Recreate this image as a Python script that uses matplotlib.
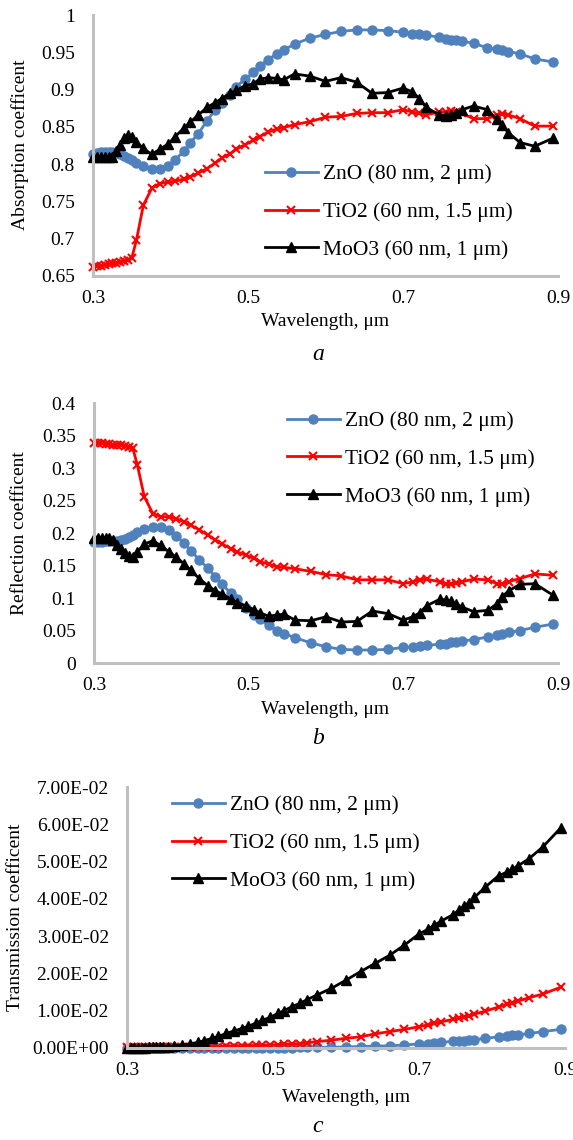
import matplotlib
matplotlib.use("Agg")
import matplotlib.pyplot as plt
from matplotlib.ticker import FuncFormatter

plt.rcParams['font.family'] = ['Liberation Serif', 'DejaVu Serif']

# wavelength grid (um), shared by all curves
wl = [0.300, 0.305, 0.310, 0.315, 0.320, 0.325, 0.330, 0.335, 0.340, 0.345, 0.350,
      0.356, 0.365, 0.376, 0.386, 0.397, 0.406, 0.417, 0.425, 0.436, 0.447,
      0.457, 0.466, 0.477, 0.485, 0.496, 0.507, 0.515, 0.526, 0.537, 0.546,
      0.56, 0.58, 0.60, 0.62, 0.64, 0.66, 0.68, 0.70,
      0.712, 0.721, 0.730, 0.747, 0.755, 0.762, 0.768, 0.776, 0.791, 0.809,
      0.821, 0.828, 0.836, 0.851, 0.870, 0.894]

labels = ['ZnO (80 nm, 2 \u03bcm)', 'TiO2 (60 nm, 1.5 \u03bcm)', 'MoO3 (60 nm, 1 \u03bcm)']

# (a) absorption
abs_zno = [0.814, 0.815, 0.816, 0.816, 0.816, 0.816, 0.815, 0.813, 0.811, 0.808, 0.805,
           0.802, 0.798, 0.794, 0.793, 0.797, 0.806, 0.817, 0.828, 0.841, 0.858,
           0.872, 0.882, 0.893, 0.904, 0.914, 0.923, 0.932, 0.940, 0.948, 0.953,
           0.961, 0.969, 0.974, 0.978, 0.980, 0.980, 0.979, 0.977,
           0.975, 0.975, 0.973, 0.970, 0.968, 0.967, 0.966, 0.965, 0.962, 0.956,
           0.954, 0.953, 0.951, 0.948, 0.941, 0.937]
abs_tio2 = [0.662, 0.663, 0.664, 0.665, 0.666, 0.667, 0.668, 0.669, 0.670, 0.671, 0.674,
            0.698, 0.745, 0.768, 0.774, 0.776, 0.777, 0.780, 0.783, 0.788, 0.794,
            0.801, 0.808, 0.814, 0.820, 0.826, 0.832, 0.837, 0.843, 0.847, 0.849,
            0.853, 0.857, 0.863, 0.864, 0.868, 0.869, 0.869, 0.873,
            0.870, 0.868, 0.866, 0.870, 0.870, 0.871, 0.870, 0.868, 0.861, 0.861,
            0.866, 0.867, 0.866, 0.861, 0.851, 0.851]
abs_moo3 = [0.809, 0.809, 0.809, 0.809, 0.809, 0.810, 0.817, 0.826, 0.835, 0.839, 0.837,
            0.830, 0.821, 0.813, 0.820, 0.827, 0.837, 0.848, 0.856, 0.866, 0.876,
            0.882, 0.888, 0.895, 0.899, 0.905, 0.908, 0.914, 0.916, 0.915, 0.913,
            0.921, 0.918, 0.911, 0.916, 0.910, 0.895, 0.896, 0.902,
            0.897, 0.888, 0.876, 0.866, 0.865, 0.866, 0.868, 0.873, 0.878, 0.873,
            0.860, 0.852, 0.842, 0.829, 0.824, 0.835]

# (b) reflection
ref_zno = [0.186, 0.186, 0.186, 0.187, 0.187, 0.187, 0.188, 0.189, 0.191, 0.194, 0.197,
           0.201, 0.206, 0.209, 0.209, 0.205, 0.196, 0.184, 0.173, 0.159, 0.146,
           0.133, 0.121, 0.107, 0.099, 0.085, 0.074, 0.067, 0.058, 0.050, 0.045,
           0.039, 0.031, 0.025, 0.021, 0.020, 0.020, 0.021, 0.024,
           0.025, 0.026, 0.027, 0.029, 0.030, 0.032, 0.033, 0.034, 0.036, 0.040,
           0.043, 0.045, 0.047, 0.050, 0.055, 0.060]
ref_tio2 = [0.339, 0.338, 0.338, 0.337, 0.337, 0.336, 0.336, 0.335, 0.334, 0.333, 0.331,
            0.305, 0.256, 0.230, 0.225, 0.225, 0.222, 0.217, 0.212, 0.205, 0.197,
            0.189, 0.183, 0.176, 0.171, 0.166, 0.161, 0.156, 0.152, 0.148, 0.147,
            0.145, 0.141, 0.136, 0.134, 0.128, 0.128, 0.128, 0.122,
            0.125, 0.128, 0.129, 0.125, 0.122, 0.121, 0.123, 0.125, 0.129, 0.128,
            0.122, 0.121, 0.125, 0.130, 0.137, 0.135]
ref_moo3 = [0.193, 0.193, 0.193, 0.193, 0.193, 0.190, 0.182, 0.176, 0.169, 0.164, 0.163,
            0.171, 0.183, 0.188, 0.181, 0.171, 0.163, 0.152, 0.143, 0.130, 0.119,
            0.111, 0.106, 0.098, 0.093, 0.088, 0.082, 0.077, 0.072, 0.074, 0.075,
            0.066, 0.065, 0.071, 0.063, 0.064, 0.080, 0.076, 0.066,
            0.071, 0.077, 0.088, 0.098, 0.097, 0.095, 0.091, 0.086, 0.079, 0.081,
            0.091, 0.102, 0.111, 0.121, 0.122, 0.104]

# (c) transmission
tr_zno = [0.0000, 0.0000, 0.0000, 0.0000, 0.0000, 0.0000, 0.0000, 0.0000, 0.0000, 0.0000, 0.0000,
          0.0000, 0.0000, 0.0000, 0.0000, 0.0000, 0.0001, 0.0001, 0.0001, 0.0001, 0.0001,
          0.0001, 0.0001, 0.0001, 0.0001, 0.0001, 0.0001, 0.0001, 0.0001, 0.0002, 0.0002,
          0.0002, 0.0002, 0.0003, 0.0004, 0.0005, 0.0006, 0.0008, 0.0011,
          0.0012, 0.0013, 0.0015, 0.0018, 0.0019, 0.0020, 0.0021, 0.0022, 0.0026, 0.0030,
          0.0032, 0.0034, 0.0035, 0.0039, 0.0044, 0.0050]
tr_tio2 = [0.0002, 0.0002, 0.0002, 0.0002, 0.0002, 0.0002, 0.0002, 0.0002, 0.0002, 0.0002, 0.0002,
           0.0002, 0.0002, 0.0003, 0.0003, 0.0003, 0.0004, 0.0004, 0.0004, 0.0005, 0.0005,
           0.0006, 0.0006, 0.0007, 0.0007, 0.0008, 0.0009, 0.0010, 0.0011, 0.0012, 0.0014,
           0.0017, 0.0021, 0.0026, 0.0030, 0.0038, 0.0044, 0.0050, 0.0057,
           0.0062, 0.0066, 0.0070, 0.0077, 0.0080, 0.0083, 0.0086, 0.0091, 0.0099, 0.0110,
           0.0118, 0.0122, 0.0126, 0.0135, 0.0145, 0.0163]
tr_moo3 = [0.0000, 0.0000, 0.0001, 0.0001, 0.0001, 0.0001, 0.0002, 0.0002, 0.0002, 0.0003, 0.0003,
           0.0004, 0.0006, 0.0008, 0.0011, 0.0015, 0.0020, 0.0026, 0.0031, 0.0039, 0.0046,
           0.0052, 0.0058, 0.0067, 0.0074, 0.0082, 0.0093, 0.0100, 0.0111, 0.0120, 0.0129,
           0.0142, 0.0160, 0.0182, 0.0205, 0.0227, 0.0249, 0.0276, 0.0306,
           0.0318, 0.0329, 0.0340, 0.0358, 0.0370, 0.0380, 0.0390, 0.0404, 0.0432, 0.0462,
           0.0472, 0.0480, 0.0489, 0.0508, 0.0540, 0.0590]

W, H = 573, 1140
FS = 14
LFS = 15.5
fig = plt.figure(figsize=(W / 100, H / 100), dpi=100)


def px_axes(x0, y0, x1, y1):
    # pixel box (top-left origin) -> figure fraction
    return fig.add_axes([x0 / W, 1 - y1 / H, (x1 - x0) / W, (y1 - y0) / H])


def draw(ax, ys, ylim, yticks, fmt, leg_anchor):
    ax.plot(wl, ys[0], color='#4f81bd', marker='o', ms=6.5, lw=2, label=labels[0])
    ax.plot(wl, ys[1], color='#ff0000', marker='x', ms=5.5, mew=1.5, lw=2, label=labels[1])
    ax.plot(wl, ys[2], color='black', marker='^', ms=7, lw=2, label=labels[2])
    ax.set_xlim(0.3, 0.9)
    ax.set_ylim(*ylim)
    ax.set_xticks([0.3, 0.5, 0.7, 0.9])
    ax.xaxis.set_major_formatter(FuncFormatter(lambda v, p: '%g' % round(v, 2)))
    ax.set_yticks(yticks)
    ax.yaxis.set_major_formatter(FuncFormatter(fmt))
    for s in ['top', 'right']:
        ax.spines[s].set_visible(False)
    for s in ['left', 'bottom']:
        ax.spines[s].set_color('#bfbfbf')
        ax.spines[s].set_linewidth(2.2)
    ax.tick_params(length=0, labelsize=FS)
    ax.tick_params(axis='y', pad=13)
    ax.tick_params(axis='x', pad=10)
    for l in ax.get_lines():
        l.set_clip_on(False)
    ax.legend(loc='center left', bbox_to_anchor=leg_anchor, frameon=False, fontsize=LFS,
              handlelength=2.45, handletextpad=0.22, labelspacing=0.82, borderpad=0,
              borderaxespad=0)


ax1 = px_axes(93, 15, 558, 276)
draw(ax1, [abs_zno, abs_tio2, abs_moo3], (0.65, 1.0),
     [0.65, 0.7, 0.75, 0.8, 0.85, 0.9, 0.95, 1.0],
     lambda v, p: '%g' % round(v, 2), (0.37, 0.245))

ax2 = px_axes(94, 403, 558, 663)
draw(ax2, [ref_zno, ref_tio2, ref_moo3], (0, 0.4),
     [0, 0.05, 0.1, 0.15, 0.2, 0.25, 0.3, 0.35, 0.4],
     lambda v, p: '%g' % round(v, 2), (0.416, 0.785))

ax3 = px_axes(127, 787, 565, 1048)
draw(ax3, [tr_zno, tr_tio2, tr_moo3], (0, 0.07),
     [0, 0.01, 0.02, 0.03, 0.04, 0.05, 0.06, 0.07],
     lambda v, p: '%.2E' % v, (0.103, 0.785))

# axis titles and panel letters
fig.text(20 / W, 1 - 145 / H, 'Absorption coefficent', rotation=90, ha='center', va='center', fontsize=FS)
fig.text(20 / W, 1 - 533 / H, 'Reflection coefficent', rotation=90, ha='center', va='center', fontsize=FS)
fig.text(16 / W, 1 - 917 / H, 'Transmission coefficent', rotation=90, ha='center', va='center', fontsize=FS)

fig.text(325 / W, 1 - 321 / H, 'Wavelength, \u03bcm', ha='center', va='center', fontsize=FS)
fig.text(325 / W, 1 - 710 / H, 'Wavelength, \u03bcm', ha='center', va='center', fontsize=FS)
fig.text(346 / W, 1 - 1097 / H, 'Wavelength, \u03bcm', ha='center', va='center', fontsize=FS)

fig.text(318 / W, 1 - 354 / H, 'a', style='italic', ha='center', va='center', fontsize=17)
fig.text(318 / W, 1 - 738 / H, 'b', style='italic', ha='center', va='center', fontsize=17)
fig.text(318 / W, 1 - 1127 / H, 'c', style='italic', ha='center', va='center', fontsize=17)

fig.savefig('out.png', dpi=100)
